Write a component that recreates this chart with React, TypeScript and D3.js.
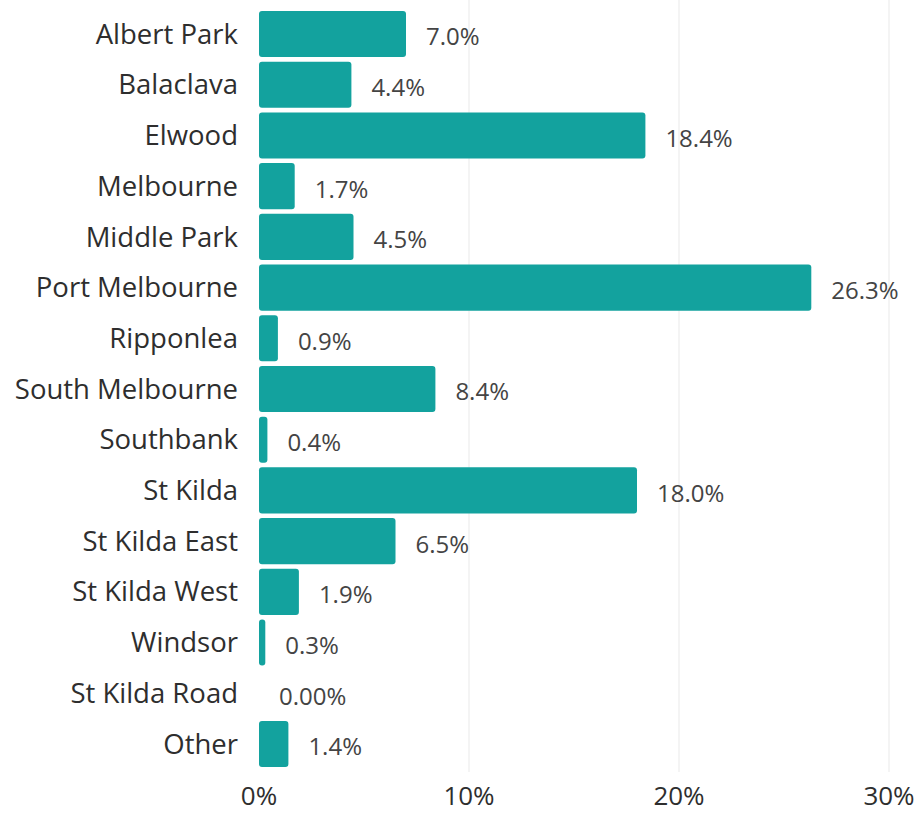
import React from "react";
import * as d3 from "d3";

const categories = [
  "Albert Park", "Balaclava", "Elwood", "Melbourne", "Middle Park", "Port Melbourne",
  "Ripponlea", "South Melbourne", "Southbank", "St Kilda", "St Kilda East",
  "St Kilda West", "Windsor", "St Kilda Road", "Other",
];
const values = [7.0, 4.4, 18.4, 1.7, 4.5, 26.3, 0.9, 8.4, 0.4, 18.0, 6.5, 1.9, 0.3, 0.0, 1.4];
const valueLabels = [
  "7.0%", "4.4%", "18.4%", "1.7%", "4.5%", "26.3%", "0.9%", "8.4%", "0.4%",
  "18.0%", "6.5%", "1.9%", "0.3%", "0.00%", "1.4%",
];
const ticks = [0, 10, 20, 30];

export default function App() {
  const W = 921, H = 814;
  const x = d3.scaleLinear().domain([0, 30]).range([259, 889]);
  const y = d3.scaleBand<string>().domain(categories).range([8.7, 769.3]).paddingInner(0.09).paddingOuter(0.045);
  const font = "'Open Sans', 'Noto Sans', sans-serif";
  return (
    <svg width={W} height={H} style={{ position: "absolute", left: 0, top: 0, background: "#fff" }}>
      {ticks.filter((t) => t > 0).map((t) => (
        <line key={t} x1={x(t)} x2={x(t)} y1={0} y2={772} stroke="#f0f0f0" strokeWidth={1.5} />
      ))}
      {categories.map((c, i) => {
        const yy = y(c)!;
        const bw = x(values[i]) - x(0);
        const cy = yy + y.bandwidth() / 2;
        return (
          <g key={c}>
            {bw > 0 && (
              <rect x={x(0)} y={yy} width={bw} height={y.bandwidth()} rx={Math.min(3, bw / 2)} fill="#13a29e" />
            )}
            <text x={238} y={cy} dy="0.35em" textAnchor="end" fontFamily={font} fontSize={27.5} fill="#2e2e2e">
              {c}
            </text>
            <text x={x(values[i]) + 20} y={cy + 3} dy="0.35em" textAnchor="start" fontFamily={font} fontSize={24} fill="#444">
              {valueLabels[i]}
            </text>
          </g>
        );
      })}
      {ticks.map((t) => (
        <text key={t} x={x(t)} y={805} textAnchor="middle" fontFamily={font} fontSize={26} fill="#2e2e2e">
          {t + "%"}
        </text>
      ))}
    </svg>
  );
}
